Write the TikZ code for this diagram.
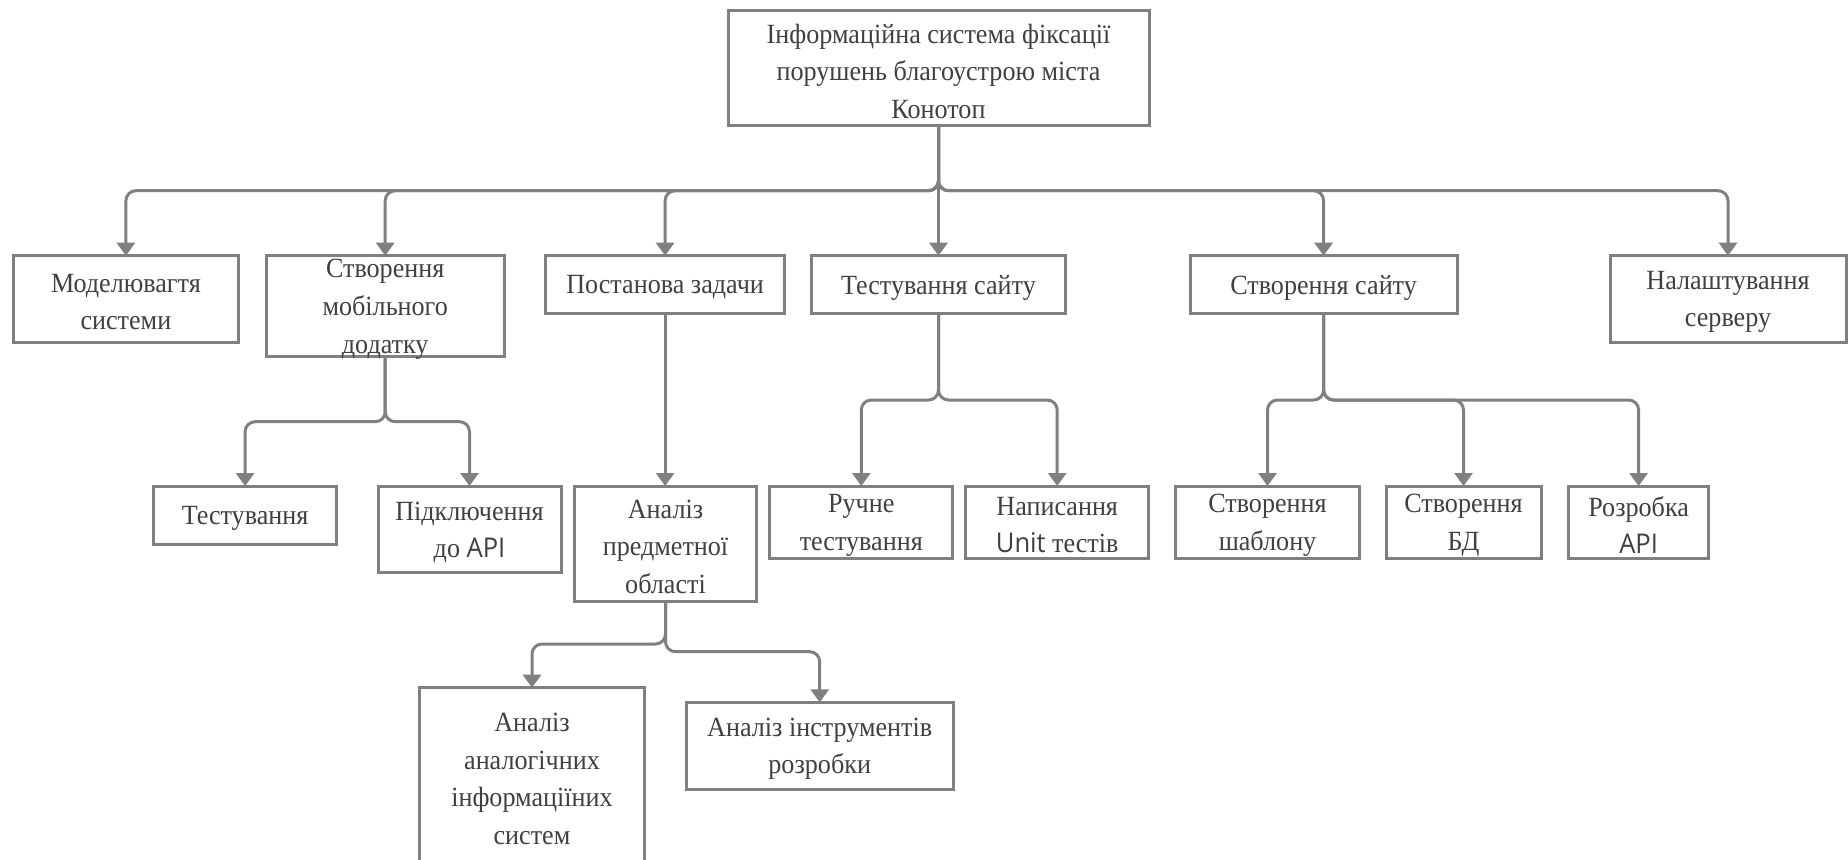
\documentclass[tikz,border=0pt]{standalone}
\usepackage{fontspec}
\setmainfont{Liberation Serif}[FakeStretch=0.94]
\newfontfamily\latinsans{Open Sans}[FakeStretch=0.94]
\usetikzlibrary{arrows.meta}
\definecolor{linegray}{RGB}{128,128,128}
\definecolor{textgray}{RGB}{64,64,64}
\tikzset{
  box/.style={draw=linegray, line width=1.5pt, fill=white, inner sep=0pt},
  txt/.style={text=textgray, align=center, inner sep=0pt,
              font=\fontsize{13.9}{18.8}\selectfont},
  link/.style={draw=linegray, line width=1.5pt, rounded corners=5pt,
               -{Triangle[width=9pt,length=6.5pt]}},
}
% name, x, y, width, height, text  (positions in px units, sizes in pt)
\newcommand\taskbox[6]{%
  \node[box, minimum width=#4, minimum height=#5] (#1) at (#2,#3) {};
  \node[txt] (#1-t) at (#2,#3+3) {#6};}
\newcommand\sans[1]{{\latinsans\fontsize{13.6}{18.8}\selectfont #1}}
\begin{document}
\begin{tikzpicture}[x=0.5pt,y=-0.5pt]
  \useasboundingbox (0,0) rectangle (1848,859);
  \clip (0,0) rectangle (1848,859);

  % bus points where the connectors branch
  \coordinate (rootbus) at (938.5,190.7);
  \coordinate (mobbus)  at (385.2,421.7);
  \coordinate (testbus) at (938.5,400);
  \coordinate (sitebus) at (1323.6,400);
  \coordinate (subjbusA) at (665.5,644);
  \coordinate (subjbusB) at (665.5,651.7);

  % connectors
  \draw[link] (938.5,126) -- (rootbus) -| (125.9,255.7);
  \draw[link] (938.5,126) -- (rootbus) -| (385.2,255.7);
  \draw[link] (938.5,126) -- (rootbus) -| (665.1,255.7);
  \draw[link] (938.5,126) -- (938.5,255.7);
  \draw[link] (938.5,126) -- (rootbus) -| (1323.6,255.7);
  \draw[link] (938.5,126) -- (rootbus) -| (1728,255.7);

  \draw[link] (385.2,356.7) -- (mobbus) -| (245.1,486);
  \draw[link] (385.2,356.7) -- (mobbus) -| (469.5,486);

  \draw[link] (665.1,313.3) -- (665.1,486);

  \draw[link] (938.5,313.3) -- (testbus) -| (861.3,486);
  \draw[link] (938.5,313.3) -- (testbus) -| (1057.2,486);

  \draw[link] (1323.6,313.3) -- (sitebus) -| (1267.5,486);
  \draw[link] (1323.6,313.3) -- (sitebus) -| (1463.5,486);
  \draw[link] (1323.6,313.3) -- (sitebus) -| (1638.6,486);

  \draw[link] (665.5,601.7) -- (subjbusA) -| (532,687.7);
  \draw[link] (665.5,601.7) -- (subjbusB) -| (819.7,702.3);

  % boxes
  \taskbox{root}{938.5}{68.3}{210.5pt}{57.5pt}{Інформаційна система фіксації\\порушень благоустрою міста\\Конотоп}
  \taskbox{model}{125.9}{299}{112.5pt}{43.3pt}{Моделювагтя\\системи}
  \taskbox{mobile}{385.2}{306.2}{119.2pt}{50.5pt}{Створення\\мобільного\\додатку}
  \taskbox{task}{665.1}{284.5}{119.4pt}{28.8pt}{Постанова задачи}
  \taskbox{testsite}{938.5}{284.5}{126.6pt}{28.8pt}{Тестування сайту}
  \taskbox{site}{1323.6}{284.5}{133.6pt}{28.8pt}{Створення сайту}
  \taskbox{server}{1728}{299}{118pt}{43.3pt}{Налаштування\\серверу}
  \taskbox{testing}{245.1}{515.2}{91.3pt}{29.2pt}{Тестування}
  \taskbox{apiconn}{469.5}{529.4}{91.5pt}{43.4pt}{Підключення\\до \sans{API}}
  \taskbox{subject}{665.5}{543.9}{91.3pt}{57.9pt}{Аналіз\\предметної\\області}
  \taskbox{manual}{861.3}{522.2}{91.5pt}{36.2pt}{Ручне\\тестування}
  \taskbox{unit}{1057.2}{522.2}{91.4pt}{36.2pt}{Написання\\\sans{Unit} тестів}
  \taskbox{template}{1267.5}{522.2}{91.7pt}{36.2pt}{Створення\\шаблону}
  \taskbox{db}{1463.5}{522.2}{77.5pt}{36.2pt}{Створення\\БД}
  \taskbox{apidev}{1638.6}{522.2}{70.1pt}{36.2pt}{Розробка\\\sans{API}}
  \taskbox{analog}{532}{776}{112.2pt}{88.5pt}{Аналіз\\аналогічних\\інформаціїних\\систем}
  \taskbox{tools}{819.7}{745.8}{133.4pt}{43.5pt}{Аналіз інструментів\\розробки}
\end{tikzpicture}
\end{document}
